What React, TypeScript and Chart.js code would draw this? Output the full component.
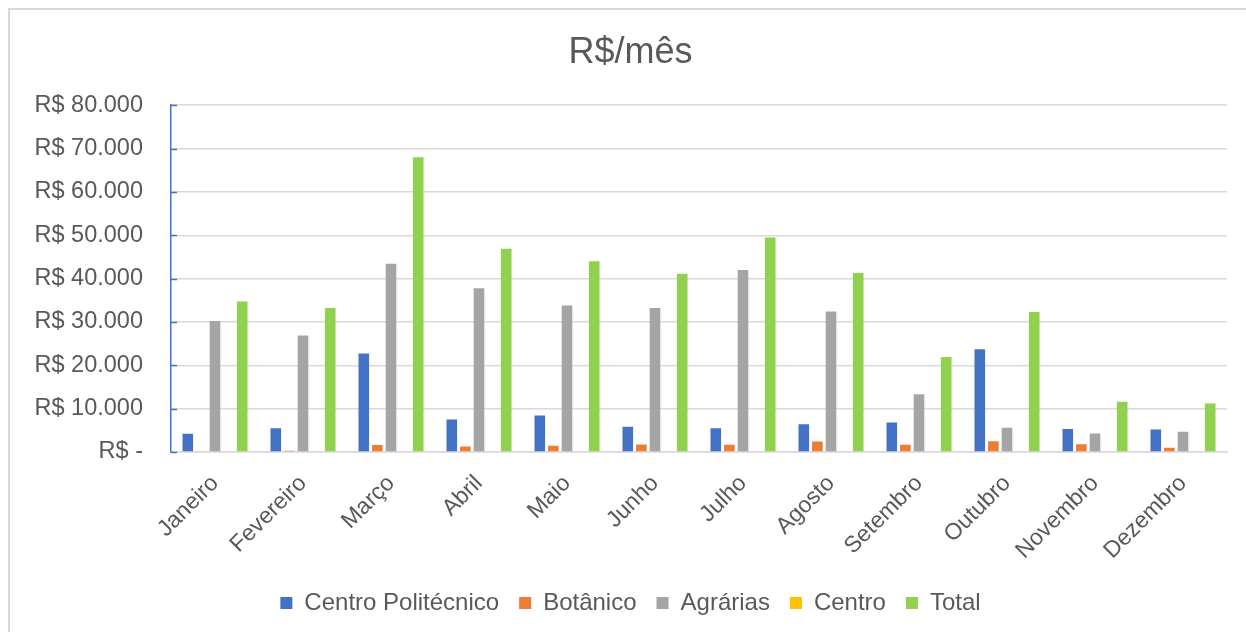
import React, { useEffect, useRef } from "react";
import { Chart, registerables } from "chart.js";

Chart.register(...registerables);

const months = ["Janeiro", "Fevereiro", "Março", "Abril", "Maio", "Junho", "Julho", "Agosto", "Setembro", "Outubro", "Novembro", "Dezembro"];
const centroPolitecnico = [4200, 5500, 22700, 7500, 8400, 5800, 5500, 6400, 6800, 23700, 5300, 5200];
const botanico = [0, 300, 1600, 1250, 1450, 1750, 1700, 2400, 1700, 2500, 1800, 1000];
const agrarias = [30200, 26900, 43400, 37800, 33800, 33200, 42000, 32400, 13300, 5600, 4250, 4700];
const centro = [0, 0, 0, 0, 0, 0, 0, 0, 0, 0, 0, 0];
const total = [34700, 33200, 68000, 46900, 44000, 41100, 49500, 41300, 21900, 32300, 11600, 11200];
const seriesNames = ["Centro Politécnico", "Botânico", "Agrárias", "Centro", "Total"];
const seriesColors = ["#4472C4", "#ED7D31", "#A5A5A5", "#FFC000", "#92D050"];
const titleText = "R$/mês";
const yMax = 80000;
const yStep = 10000;

const FONT = "'Liberation Sans', Arial, sans-serif";

const fmt = (v: number) => {
  if (v === 0) return "R$ -";
  return "R$ " + v.toString().replace(/\B(?=(\d{3})+(?!\d))/g, ".");
};

const innerTicks = {
  id: "innerTicks",
  afterDatasetsDraw(chart: any) {
    const y = chart.scales.y;
    const ctx = chart.ctx;
    const x0 = chart.chartArea.left;
    ctx.save();
    ctx.strokeStyle = "#4472C4";
    ctx.lineWidth = 1.5;
    y.ticks.forEach((t: any) => {
      const py = Math.round(y.getPixelForValue(t.value)) + 0.5;
      ctx.beginPath();
      ctx.moveTo(x0, py);
      ctx.lineTo(x0 + 6, py);
      ctx.stroke();
    });
    ctx.restore();
  },
};

export default function App() {
  const ref = useRef<HTMLCanvasElement>(null);
  useEffect(() => {
    document.body.style.overflow = "hidden";
    const data = [centroPolitecnico, botanico, agrarias, centro, total];
    const chart = new Chart(ref.current!, {
      type: "bar",
      data: {
        labels: months,
        datasets: seriesNames.map((n, i) => ({
          label: n,
          data: data[i],
          backgroundColor: seriesColors[i],
          borderWidth: 0,
          categoryPercentage: 0.773,
          barPercentage: 0.78,
        })),
      },
      options: {
        responsive: false,
        animation: false,
        layout: { padding: { left: 24, right: 19, top: 0, bottom: 7 } },
        font: { family: FONT },
        plugins: {
          title: {
            display: true,
            text: titleText,
            color: "#595959",
            font: { size: 36, weight: "normal", family: FONT },
            padding: { top: 21, bottom: 31 },
          },
          legend: {
            position: "bottom",
            labels: {
              boxWidth: 12,
              boxHeight: 12,
              padding: 20,
              color: "#595959",
              font: { size: 24, family: FONT },
            },
          },
          tooltip: { enabled: false },
        },
        scales: {
          x: {
            grid: { display: false, drawTicks: false },
            border: { display: true, color: "#D9D9D9", width: 1.5 },
            ticks: {
              color: "#595959",
              font: { size: 23, family: FONT },
              maxRotation: 45,
              minRotation: 45,
              padding: 18,
            },
            afterFit: (s: any) => { s.height = 119; },
          },
          y: {
            min: 0,
            max: yMax,
            grid: { color: "#D9D9D9", lineWidth: 1.5, drawTicks: false },
            border: { display: true, color: "#4472C4", width: 1.5 },
            ticks: {
              stepSize: yStep,
              color: "#595959",
              font: { size: 23.5, family: FONT },
              padding: 28,
              callback: (v: any) => fmt(Number(v)),
            },
            afterFit: (s: any) => { s.width = 137; },
          },
        },
      },
      plugins: [innerTicks],
    });
    return () => chart.destroy();
  }, []);
  return (
    <div
      style={{
        position: "absolute",
        left: 8,
        top: 8,
        width: 1238,
        height: 624,
        boxSizing: "border-box",
        borderTop: "2px solid #D9D9D9",
        borderLeft: "2px solid #D9D9D9",
        background: "#fff",
      }}
    >
      <canvas ref={ref} width={1236} height={622} style={{ display: "block" }} />
    </div>
  );
}
